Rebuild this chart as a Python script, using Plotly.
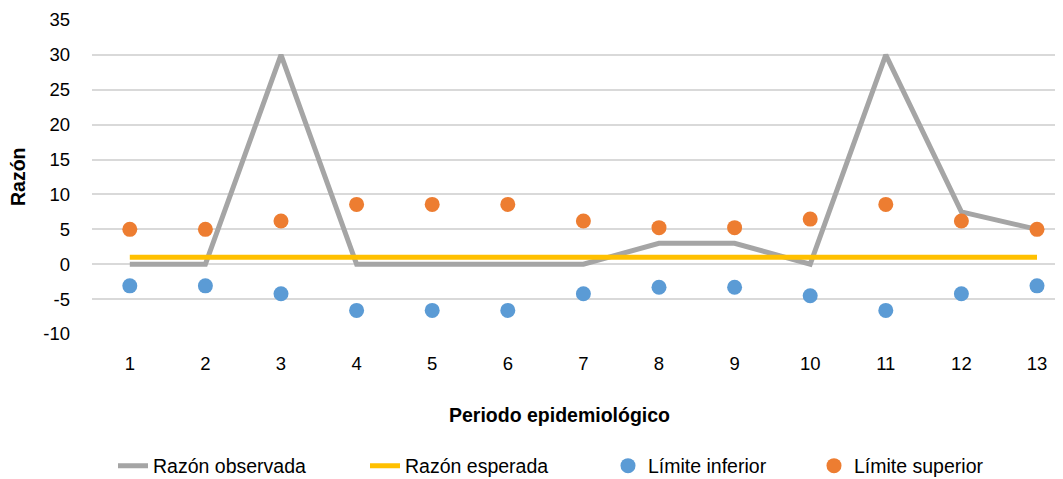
import plotly.graph_objects as go

periodos = list(range(1, 14))
razon_observada = [0, 0, 30, 0, 0, 0, 0, 3, 3, 0, 30, 7.5, 5]
razon_esperada = [1] * 13
limite_inferior = [-3.1, -3.1, -4.24, -6.62, -6.62, -6.62, -4.24, -3.29, -3.29, -4.52, -6.62, -4.24, -3.1]
limite_superior = [5.0, 5.0, 6.2, 8.57, 8.57, 8.57, 6.2, 5.24, 5.24, 6.47, 8.57, 6.2, 5.0]
y_ticks = list(range(-10, 40, 5))
y_ticktext = [str(v) for v in y_ticks]  # plain hyphen minus

FONT = "Liberation Sans, Arial, sans-serif"
W, H = 1063, 479
OFF = 8  # page body margin offset
L, T = 92 - OFF, 20 - OFF
PLOT_BOTTOM = 334 - OFF
B = H - PLOT_BOTTOM
STEP = 75.6
X_RIGHT = 0.5 + (W - L) / STEP

fig = go.Figure()
fig.add_trace(go.Scatter(x=periodos, y=razon_observada, mode="lines", name="Razón observada",
                         line=dict(color="#A5A5A5", width=5), legend="legend"))
fig.add_trace(go.Scatter(x=periodos, y=razon_esperada, mode="lines", name="Razón esperada",
                         line=dict(color="#FFC000", width=5), legend="legend2"))
fig.add_trace(go.Scatter(x=periodos, y=limite_inferior, mode="markers", name="Límite inferior",
                         marker=dict(color="#5B9BD5", size=15), legend="legend3"))
fig.add_trace(go.Scatter(x=periodos, y=limite_superior, mode="markers", name="Límite superior",
                         marker=dict(color="#ED7D31", size=15), legend="legend4"))

def leg(px):
    return dict(xref="container", yref="container", x=(px - OFF) / W, xanchor="left",
                y=(H - (466 - OFF)) / H, yanchor="middle", orientation="h",
                font=dict(family=FONT, size=19.5, color="#000000"),
                bgcolor="rgba(0,0,0,0)", borderwidth=0)

fig.update_layout(
    width=W, height=H,
    margin=dict(l=L, r=0, t=T, b=B, autoexpand=False),
    paper_bgcolor="white", plot_bgcolor="white",
    font=dict(family=FONT, size=18, color="#000000"),
    showlegend=True,
    legend=leg(113), legend2=leg(365), legend3=leg(608), legend4=leg(814),
    xaxis=dict(range=[0.5, X_RIGHT], tickmode="array", tickvals=periodos,
               ticktext=[str(p) for p in periodos], showgrid=False, zeroline=False,
               showline=False, ticks="", ticklabelstandoff=16, automargin=False,
               tickfont=dict(size=18.5)),
    yaxis=dict(range=[-10, 35], tickmode="array", tickvals=y_ticks, ticktext=y_ticktext,
               showgrid=True, gridcolor="#D9D9D9", gridwidth=1.5, zeroline=False,
               showline=False, ticks="", ticklabelstandoff=21, automargin=False,
               tickfont=dict(size=18.5)),
    annotations=[
        dict(text="<b>Periodo epidemiológico</b>", xref="paper", yref="paper",
             x=(559 - OFF - L) / (W - L), y=-(415 - 334) / (334 - 20),
             xanchor="center", yanchor="middle", showarrow=False,
             font=dict(family=FONT, size=19.5, color="#000000")),
        dict(text="<b>Razón</b>", xref="paper", yref="paper",
             x=-(92 - 18) / (W - L), y=0.5, textangle=-90,
             xanchor="center", yanchor="middle", showarrow=False,
             font=dict(family=FONT, size=19.5, color="#000000")),
    ],
)

fig.write_html("out.html")
